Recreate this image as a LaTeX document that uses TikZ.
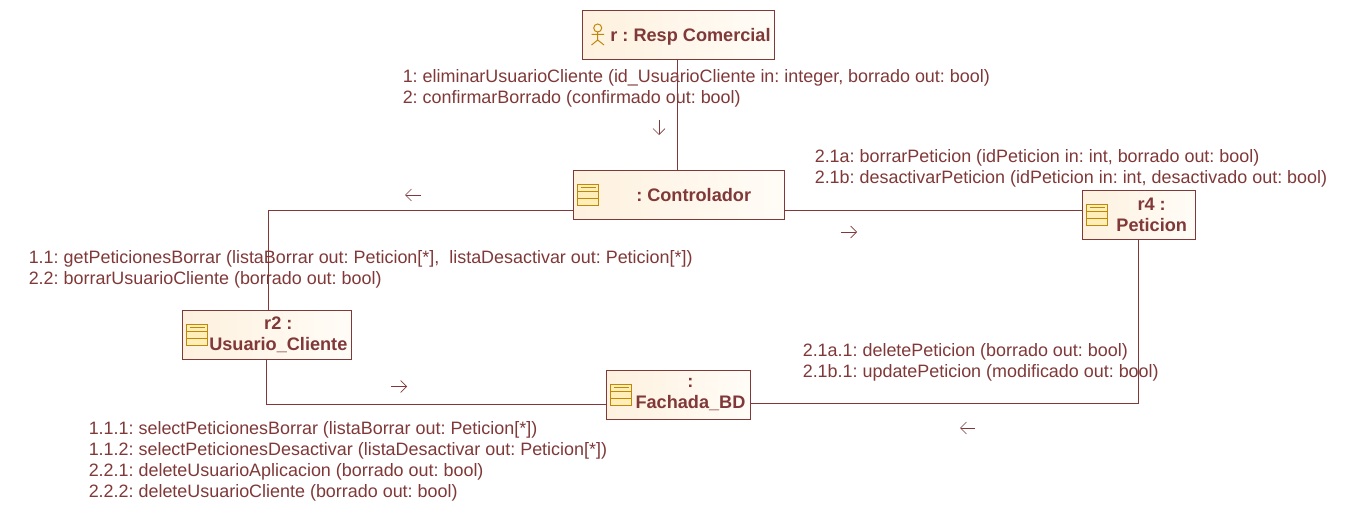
\documentclass[tikz,border=0pt]{standalone}
\usepackage{fontspec}
\setmainfont{Liberation Sans}
\definecolor{umlred}{RGB}{128,56,56}
\definecolor{umlgold}{RGB}{192,136,8}
\definecolor{umlfill}{RGB}{254,241,222}
\definecolor{umlshade}{RGB}{255,252,247}
\definecolor{umlicon}{RGB}{255,238,184}
\usetikzlibrary{
    arrows.meta,
    positioning,
    calc
}
\tikzstyle{lifeline} = [
    rectangle,
    draw=umlred,
    line width=0.8pt,
    left color=umlfill,
    right color=umlshade,
    text=umlred,
    minimum height=36.75pt,
    inner sep=0pt,
    align=center,
    font=\frenchspacing\fontsize{13.6pt}{15.75pt}\selectfont\bfseries
]
\tikzstyle{msg} = [
    anchor=north west,
    inner sep=0pt,
    align=left,
    text=umlred,
    font=\frenchspacing\fontsize{13.45pt}{15.75pt}\selectfont
]
\tikzstyle{link} = [
    draw=umlred,
    line width=0.8pt
]
\tikzstyle{flow} = [
    -{Straight Barb[length=4.5pt,width=9pt,line width=0.5pt]},
    draw=umlred,
    line width=0.5pt
]
\tikzstyle{icon} = [
    draw=umlgold,
    line width=0.75pt
]
% class symbol, placed from the west side of a box
\newcommand{\classicon}[1]{
    \begin{scope}[shift={(#1)}]
        \fill[umlicon] (0,-10.5) rectangle (21,10.5);
        \draw[icon] (0,-10.5) rectangle (21,10.5);
        \draw[icon] (0,-3.5) -- (21,-3.5);
        \draw[icon] (0,3.5) -- (21,3.5);
        \draw[icon, line width=0.5pt] (3,-7.5) -- (18,-7.5);
    \end{scope}
}
\begin{document}
\begin{tikzpicture}[x=0.75pt, y=-0.75pt]
    \useasboundingbox (0,0) rectangle (1358,524);

    % boxes
    \node[lifeline, minimum width=144pt] (resp) at (678.5,35) {\hspace*{18pt}\raisebox{0pt}[\height][0pt]{r : Resp Comercial}};
    \node[lifeline, minimum width=158.25pt] (ctrl) at (679,195) {\hspace*{22pt}: Controlador};
    \node[lifeline, minimum width=84.75pt] (pet) at (1139,215) {\hspace*{19pt}r4 :\\\hspace*{19pt}Peticion};
    \node[lifeline, minimum width=126.75pt] (usr) at (267,335) {\hspace*{17pt}r2 :\\\hspace*{17pt}Usuario\_Cliente};
    \node[lifeline, minimum width=108pt] (bd) at (678.5,395) {\hspace*{18pt}:\\\hspace*{18pt}Fachada\_BD};

    % symbols
    \foreach \n/\x/\y in {ctrl/577.5/195, pet/1086.5/215, usr/186.5/335, bd/610.5/395}
        \classicon{\x,\y};
    \draw[icon] (597.7,28) circle (4);
    \draw[icon] (597.7,32) -- (597.7,40) (591.5,34.5) -- (604,34.5) (591.5,45) -- (597.7,40) -- (604,45);

    % connectors
    \draw[link] ([xshift=-0.75pt]resp.south) -- ([xshift=-0.75pt]resp.south |- ctrl.north);
    \draw[link] ([yshift=-11.6pt]ctrl.west) -| ([xshift=1.1pt]usr.north);
    \draw[link] ([yshift=-11.6pt]ctrl.east) -- ([yshift=-11.6pt]ctrl.east -| pet.west);
    \draw[link] ([xshift=-0.5pt]pet.south) |- ([yshift=-6.4pt]bd.east);
    \draw[link] ([xshift=-0.5pt]usr.south) |- ([yshift=-7pt]bd.west);

    % direction marks
    \coordinate (a1) at (659,120);
    \coordinate (a2) at (659,135);
    \coordinate (b1) at (421,195);
    \coordinate (b2) at (405,195);
    \coordinate (c1) at (841,232);
    \coordinate (c2) at (857,232);
    \coordinate (d1) at (391,386.5);
    \coordinate (d2) at (407,386.5);
    \coordinate (e1) at (975,428);
    \coordinate (e2) at (960,428);
    \draw[flow] (a1) -- (a2);
    \draw[flow] (b1) -- (b2);
    \draw[flow] (c1) -- (c2);
    \draw[flow] (d1) -- (d2);
    \draw[flow] (e1) -- (e2);

    % messages
    \node[msg] (m1) at (402.5,69) {1: eliminarUsuarioCliente (id\_UsuarioCliente in: integer, borrado out: bool)\\2: confirmarBorrado (confirmado out: bool)};
    \node[msg] (m2) at (814.5,149) {2.1a: borrarPeticion (idPeticion in: int, borrado out: bool)\\2.1b: desactivarPeticion (idPeticion in: int, desactivado out: bool)};
    \node[msg] (m3) at (28.5,250) {1.1: getPeticionesBorrar (listaBorrar out: Peticion[*],\ \ listaDesactivar out: Peticion[*])\\2.2: borrarUsuarioCliente (borrado out: bool)};
    \node[msg] (m4) at (802.5,343) {2.1a.1: deletePeticion (borrado out: bool)\\2.1b.1: updatePeticion (modificado out: bool)};
    \node[msg] (m5) at (88.5,421) {1.1.1: selectPeticionesBorrar (listaBorrar out: Peticion[*])\\1.1.2: selectPeticionesDesactivar (listaDesactivar out: Peticion[*])\\2.2.1: deleteUsuarioAplicacion (borrado out: bool)\\2.2.2: deleteUsuarioCliente (borrado out: bool)};
\end{tikzpicture}
\end{document}
